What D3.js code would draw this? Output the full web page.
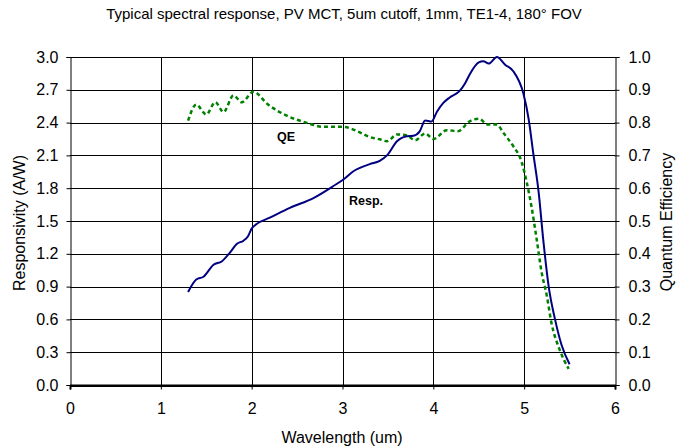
<!DOCTYPE html>
<html><head><meta charset="utf-8">
<script src="https://cdn.jsdelivr.net/npm/d3@7"></script>
<style>
body{margin:0;background:#fff;}
svg text{font-family:Arial,"Liberation Sans",sans-serif;fill:#000;}
</style></head>
<body><svg id="c" width="687" height="448"></svg>
<script>
const title = "Typical spectral response, PV MCT, 5um cutoff, 1mm, TE1-4, 180° FOV";
const xTicks = [0,1,2,3,4,5,6];
const yLeftTicks = [0,0.3,0.6,0.9,1.2,1.5,1.8,2.1,2.4,2.7,3.0];
const yRightTicks = [0,0.1,0.2,0.3,0.4,0.5,0.6,0.7,0.8,0.9,1.0];
const respX = [1.30,1.39,1.47,1.58,1.67,1.76,1.835,1.91,1.96,2.0,2.05,2.20,2.42,2.68,2.90,3.01,3.12,3.30,3.41,3.49,3.60,3.71,3.78,3.85,3.91,3.98,4.04,4.11,4.18,4.29,4.35,4.40,4.50,4.55,4.61,4.70,4.79,4.88,4.99,5.05,5.10,5.16,5.21,5.27,5.34,5.41,5.50];
const resp  = [0.85,0.965,0.99,1.10,1.13,1.21,1.29,1.32,1.36,1.43,1.47,1.53,1.62,1.71,1.82,1.88,1.955,2.02,2.05,2.10,2.23,2.276,2.28,2.32,2.42,2.41,2.50,2.58,2.63,2.69,2.76,2.84,2.95,2.96,2.94,3.0,2.93,2.87,2.67,2.43,2.12,1.76,1.33,0.90,0.60,0.37,0.19];
const qeX = [1.30,1.39,1.50,1.60,1.69,1.80,1.89,2.02,2.18,2.38,2.60,2.79,3.01,3.16,3.30,3.41,3.49,3.60,3.71,3.80,3.91,4.00,4.15,4.27,4.40,4.50,4.60,4.70,4.77,4.88,4.97,5.03,5.08,5.14,5.19,5.25,5.30,5.39,5.49];
const qe  = [0.806,0.855,0.825,0.862,0.832,0.883,0.862,0.894,0.855,0.822,0.80,0.787,0.787,0.774,0.756,0.749,0.743,0.764,0.761,0.746,0.767,0.75,0.777,0.774,0.804,0.812,0.794,0.794,0.769,0.728,0.682,0.616,0.545,0.44,0.347,0.271,0.19,0.108,0.049];

const svg = d3.select("#c");
const L=70, R=615, T=57, B=385;
const x = d3.scaleLinear().domain([0,6]).range([L,R]);
const yL = d3.scaleLinear().domain([0,3]).range([B,T]);
const yR = d3.scaleLinear().domain([0,1]).range([B,T]);

// grid
const g = svg.append("g").attr("shape-rendering","crispEdges");
g.selectAll(".hg").data(yLeftTicks.slice(1)).join("line")
  .attr("x1",L).attr("x2",R).attr("y1",d=>yL(d)+0.5).attr("y2",d=>yL(d)+0.5)
  .attr("stroke","#000").attr("stroke-width",1);
g.selectAll(".vg").data(xTicks.slice(1,-1)).join("line")
  .attr("y1",T).attr("y2",B).attr("x1",d=>x(d)+0.5).attr("x2",d=>x(d)+0.5)
  .attr("stroke","#000").attr("stroke-width",1);

// axes
const fmt = d3.format(".1f");
const axL = svg.append("g").attr("transform",`translate(${L+0.5},0)`)
  .call(d3.axisLeft(yL).tickValues(d3.range(0,3.001,0.1)).tickSize(3).tickFormat(""));
axL.call(d3.axisLeft(yL).tickValues(yLeftTicks).tickSize(4).tickPadding(8).tickFormat(fmt));
const axR = svg.append("g").attr("transform",`translate(${R+0.5},0)`)
  .call(d3.axisRight(yR).tickValues(d3.range(0,1.0001,0.02)).tickSize(3).tickFormat(""));
axR.call(d3.axisRight(yR).tickValues(yRightTicks).tickSize(4).tickPadding(9).tickFormat(fmt));
axR.selectAll(".tick line").attr("x1",-1);
const axB = svg.append("g").attr("transform",`translate(0,${B+0.5})`)
  .call(d3.axisBottom(x).tickValues(d3.range(0,6.001,0.2)).tickSize(3).tickFormat(""));
axB.call(d3.axisBottom(x).tickValues(xTicks).tickSize(4).tickPadding(13).tickFormat(d3.format("d")));
[axL,axR,axB].forEach(a=>{
  a.selectAll("path.domain").attr("stroke","#000");
  a.selectAll(".tick line").attr("stroke","#000");
  a.selectAll("text").attr("font-size",16).attr("font-family",'Arial,"Liberation Sans",sans-serif').attr("fill","#000");
});
axB.select("path.domain").attr("stroke-width",2);
svg.append("line").attr("x1",L).attr("x2",R+1).attr("y1",B+0.5).attr("y2",B+0.5).attr("stroke","#000").attr("stroke-width",2);

// lines
const lineR = d3.line().x(d=>x(d[0])).y(d=>yL(d[1])).curve(d3.curveMonotoneX);
const lineQ = d3.line().x(d=>x(d[0])).y(d=>yR(d[1])).curve(d3.curveMonotoneX);
svg.append("path").datum(qeX.map((v,i)=>[v,qe[i]])).attr("d",lineQ)
  .attr("fill","none").attr("stroke","#008000").attr("stroke-width",2.5).attr("stroke-dasharray","4,3");
svg.append("path").datum(respX.map((v,i)=>[v,resp[i]])).attr("d",lineR)
  .attr("fill","none").attr("stroke","#000080").attr("stroke-width",2);

// labels
svg.append("text").attr("x",344).attr("y",19).attr("text-anchor","middle").attr("font-size",15).text(title);
svg.append("text").attr("x",342).attr("y",443).attr("text-anchor","middle").attr("font-size",16).text("Wavelength (um)");
svg.append("text").attr("transform","translate(25,223) rotate(-90)").attr("text-anchor","middle").attr("font-size",16).text("Responsivity (A/W)");
svg.append("text").attr("transform","translate(672,222) rotate(-90)").attr("text-anchor","middle").attr("font-size",16).text("Quantum Efficiency");
svg.append("text").attr("x",277).attr("y",141).attr("font-size",12.5).attr("font-weight","bold").text("QE");
svg.append("text").attr("x",349).attr("y",205).attr("font-size",12.5).attr("font-weight","bold").text("Resp.");
</script></body></html>
